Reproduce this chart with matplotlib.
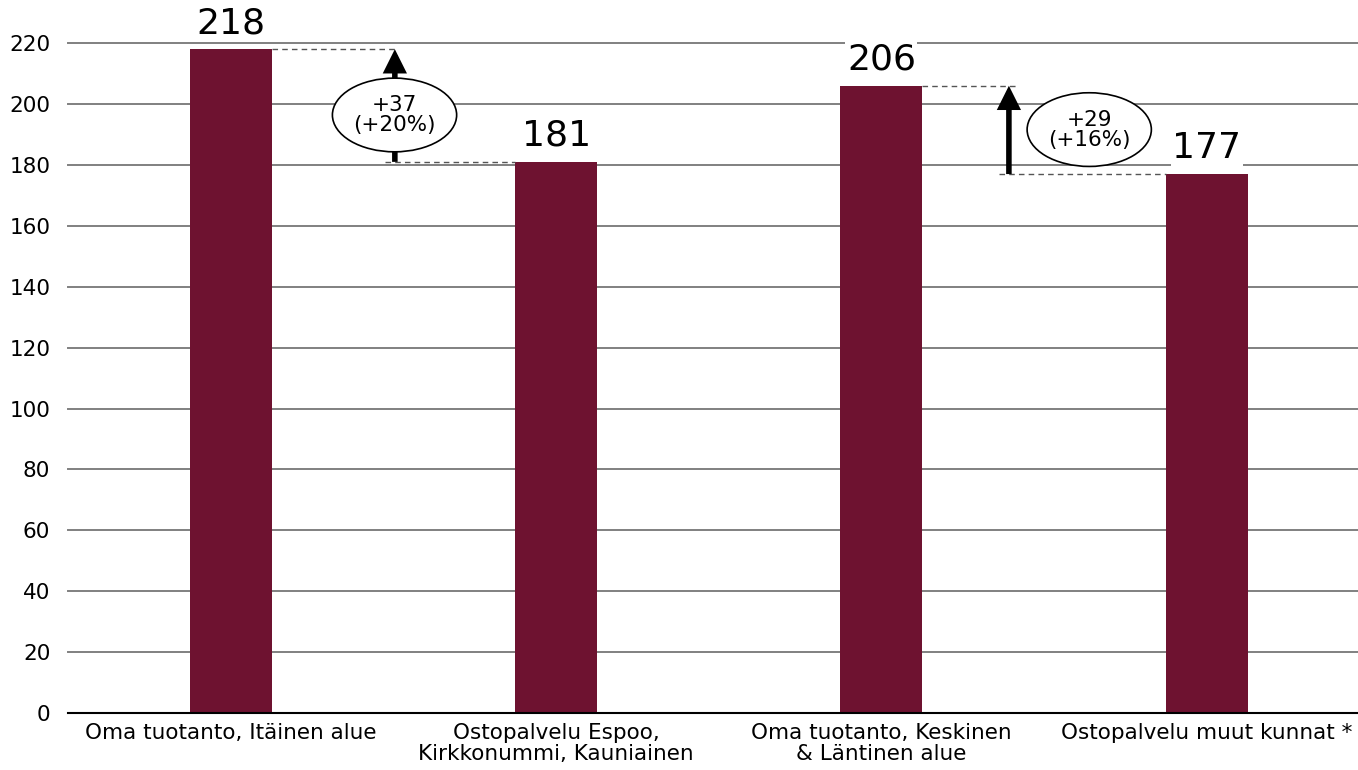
import matplotlib.pyplot as plt
from matplotlib.patches import Ellipse

categories = ['Oma tuotanto, Itäinen alue', 'Ostopalvelu Espoo,\nKirkkonummi, Kauniainen',
              'Oma tuotanto, Keskinen\n& Läntinen alue', 'Ostopalvelu muut kunnat *']
values = [218, 181, 206, 177]
diff_labels = ['+37\n(+20%)', '+29\n(+16%)']

bar_color = '#6E1230'
plt.rcParams['font.family'] = ['DejaVu Sans']

fig = plt.figure(figsize=(13.58, 7.7), dpi=100)
ax = fig.add_axes([0.0503, 0.074, 0.958, 0.870])

x = list(range(len(values)))
ax.bar(x, values, width=0.252, color=bar_color, zorder=3)

ax.set_xlim(-0.5, 3.5)
ax.set_ylim(0, 220)
ax.set_yticks(range(0, 221, 20))
ax.yaxis.grid(True, color='#808080', linewidth=1.4, zorder=0)
for gl in ax.get_ygridlines():
    gl.set_clip_on(False)
ax.set_axisbelow(True)
for s in ['top', 'right', 'left']:
    ax.spines[s].set_visible(False)
ax.spines['bottom'].set_color('black')
ax.spines['bottom'].set_linewidth(1.5)
ax.spines['bottom'].set_zorder(4)
ax.tick_params(axis='both', length=0, labelsize=15.5, colors='black')
ax.tick_params(axis='x', pad=7)
ax.tick_params(axis='y', pad=13)
ax.set_xticks(x)
ax.set_xticklabels(categories, linespacing=1.1)

# value labels above the bars
for xi, v in zip(x, values):
    ax.text(xi, v + 3, str(v), ha='center', va='bottom', fontsize=26,
            bbox=dict(facecolor='white', edgecolor='none', pad=1), zorder=5, clip_on=False)

# difference annotations: (from bar, to bar, arrow x, ellipse x, ellipse y, dash ends)
dash = dict(color='#555555', linestyle=(0, (4, 3)), linewidth=1.0, zorder=4)
pairs = [(0, 1, 0.504, 0.503, 196.4, 0.513, 0.473),
         (2, 3, 2.392, 2.639, 191.6, 2.416, 2.361)]
for (a, b, arr_x, ell_x, ell_y, up_end, lo_start), lab in zip(pairs, diff_labels):
    hi, lo = values[a], values[b]
    ax.plot([a + 0.126, up_end], [hi, hi], **dash)
    ax.plot([lo_start, b - 0.126], [lo, lo], **dash)
    ax.annotate('', xy=(arr_x, hi), xytext=(arr_x, lo),
                arrowprops=dict(arrowstyle='-|>,head_length=0.5,head_width=0.25', color='black',
                                lw=4, mutation_scale=22, shrinkA=0, shrinkB=0,
                                joinstyle='miter', capstyle='butt'), zorder=5)
    ax.add_patch(Ellipse((ell_x, ell_y), 0.382, 24.2, facecolor='white', edgecolor='black',
                         linewidth=1.2, zorder=6))
    ax.text(ell_x, ell_y, lab, ha='center', va='center', fontsize=15.5,
            linespacing=1.0, zorder=7)

fig.savefig('out.png', dpi=100)
